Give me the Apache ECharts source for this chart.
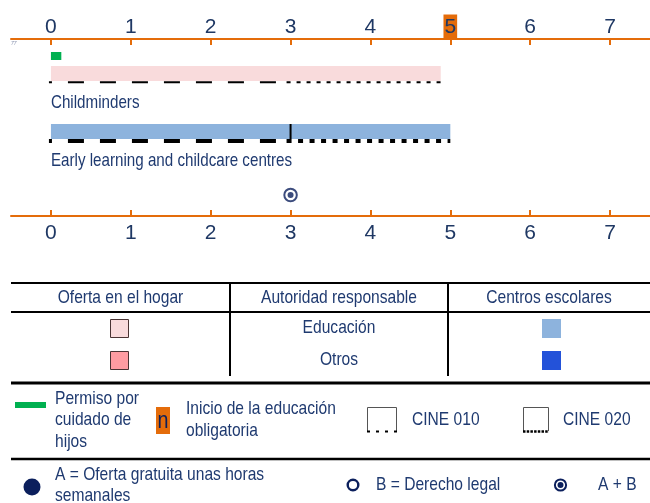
<!DOCTYPE html>
<html>
<head>
<meta charset="utf-8">
<script src="https://cdn.jsdelivr.net/npm/echarts@6/dist/echarts.min.js"></script>
<style>
html, body { margin: 0; padding: 0; background: #fff; }
#chart { width: 650px; height: 503px; }
</style>
</head>
<body>
<div id="chart"></div>
<script>
// datos del gráfico
const years = [0, 1, 2, 3, 4, 5, 6, 7];
const compulsoryAge = 5;
const leaveEnd = 0.13;
const settings = ['Childminders', 'Early learning and childcare centres'];
const settingStart = [0, 0];
const settingEnd = [4.88, 5];
const cine010End = [3, 3];
const settingColors = ['#f9dbdc', '#8db3dd'];
const authorityBreak = [null, 3];
const entitlementAge = 3; // A + B

const tableHeaders = ['Oferta en el hogar', 'Autoridad responsable', 'Centros escolares'];
const authorities = ['Educación', 'Otros'];
const homeColors = ['#f9dbdc', '#ff9ca2'];
const centreColors = ['#8db3dd', '#2352d9'];

const orange = '#e46c0a';
const navy = '#1f3a70';
const markNavy = '#0b1f5c';
const font = '"Liberation Sans", Arial, sans-serif';
const narrow = 0.82; // Arial Narrow ~ Arial al 82 %

// posiciones verticales de las filas (px desde el eje superior)
const rows = [
    { top: 27, bottom: 42, line: 43.2, w: 2, dot: [4, 6], label: 64 },
    { top: 85, bottom: 100, line: 102, w: 4, dot: [5, 6.5], label: 122 }
];

const chart = echarts.init(document.getElementById('chart'));

function txt(text, x, y, opt) {
    return {
        type: 'text', x: x, y: y, scaleX: narrow,
        style: Object.assign({
            text: text, x: 0, y: 0, fill: navy, fontSize: 19, fontFamily: font,
            align: 'left', verticalAlign: 'middle', lineHeight: 21.5
        }, opt || {})
    };
}
function hline(x1, x2, y, w) {
    return { type: 'line', shape: { x1: x1, y1: y, x2: x2, y2: y }, style: { stroke: '#000', lineWidth: w } };
}
function vline(x, y1, y2, w) {
    return { type: 'line', shape: { x1: x, y1: y1, x2: x, y2: y2 }, style: { stroke: '#000', lineWidth: w } };
}

const graphic = [
    txt('77', 11, 43, { fontSize: 6, fill: '#8a94b0', fontStyle: 'italic' }),
    // tabla de autoridades
    hline(11, 650, 283, 2),
    hline(11, 650, 312, 2),
    hline(11, 650, 383, 3),
    vline(230, 283, 376, 2),
    vline(448, 283, 376, 2),
    txt(tableHeaders[0], 120.5, 298, { align: 'center' }),
    txt(tableHeaders[1], 339, 298, { align: 'center' }),
    txt(tableHeaders[2], 549, 298, { align: 'center' })
];
authorities.forEach(function (a, i) {
    const y = 328 + i * 32;
    graphic.push(txt(a, 339, y, { align: 'center' }));
    graphic.push({ type: 'rect', shape: { x: 110.5, y: y - 8.5, width: 18, height: 18 },
        style: { fill: homeColors[i], stroke: '#4a3434', lineWidth: 1 } });
    graphic.push({ type: 'rect', shape: { x: 542, y: y - 9, width: 19, height: 19 },
        style: { fill: centreColors[i] } });
});
// leyenda
graphic.push(
    { type: 'rect', shape: { x: 15, y: 402, width: 31, height: 6 }, style: { fill: '#00b050' } },
    txt('Permiso por\ncuidado de\nhijos', 55, 420),
    { type: 'rect', shape: { x: 156, y: 407, width: 14, height: 27 }, style: { fill: orange } },
    txt('n', 163, 421, { align: 'center', fontSize: 24, fill: markNavy }),
    txt('Inicio de la educación\nobligatoria', 186, 420),
    { type: 'polyline', shape: { points: [[367.5, 431], [367.5, 407.5], [396.5, 407.5], [396.5, 431]] },
        style: { stroke: '#555', lineWidth: 1, fill: null } },
    { type: 'line', shape: { x1: 367, y1: 431.5, x2: 397, y2: 431.5 },
        style: { stroke: '#000', lineWidth: 2, lineDash: [3, 6] } },
    txt('CINE 010', 412, 420),
    { type: 'polyline', shape: { points: [[523.5, 431], [523.5, 407.5], [548.5, 407.5], [548.5, 431]] },
        style: { stroke: '#555', lineWidth: 1, fill: null } },
    { type: 'line', shape: { x1: 523, y1: 431.5, x2: 549, y2: 431.5 },
        style: { stroke: '#000', lineWidth: 2.5, lineDash: [2.5, 1.2] } },
    txt('CINE 020', 563, 420),
    hline(11, 650, 459, 2.5),
    { type: 'circle', shape: { cx: 32, cy: 487, r: 8.5 }, style: { fill: markNavy } },
    txt('A = Oferta gratuita unas horas\nsemanales', 55, 485.5, { lineHeight: 21 }),
    { type: 'circle', shape: { cx: 353, cy: 485, r: 5.3 }, style: { fill: '#fff', stroke: markNavy, lineWidth: 2.4 } },
    txt('B = Derecho legal', 376, 485),
    { type: 'circle', shape: { cx: 560.5, cy: 485, r: 5.6 }, style: { fill: '#fff', stroke: markNavy, lineWidth: 2 } },
    { type: 'circle', shape: { cx: 560.5, cy: 485, r: 3 }, style: { fill: markNavy } },
    txt('A + B', 598, 485)
);

function renderSetting(params, api) {
    const i = params.dataIndex;
    const r = rows[i];
    const s = api.value(0), e = api.value(1), m = api.value(2);
    const p0 = api.coord([s, r.top]);
    const p1 = api.coord([e, r.bottom]);
    const ls = api.coord([s, r.line]);
    const lm = api.coord([m, r.line]);
    const le = api.coord([e, r.line]);
    const children = [
        { type: 'rect', shape: { x: p0[0], y: p0[1], width: p1[0] - p0[0], height: p1[1] - p0[1] },
            style: { fill: settingColors[i] } },
        { type: 'line', shape: { x1: ls[0] - 2, y1: ls[1], x2: lm[0] - 4, y2: lm[1] },
            style: { stroke: '#000', lineWidth: r.w, lineDash: [16, 16], lineDashOffset: 13 } },
        { type: 'line', shape: { x1: lm[0] - 4, y1: lm[1], x2: le[0], y2: le[1] },
            style: { stroke: '#000', lineWidth: r.w, lineDash: r.dot } },
        { type: 'text', x: p0[0], y: api.coord([s, r.label])[1], scaleX: narrow,
            style: { text: settings[i], x: 0, y: 0, fill: navy, fontSize: 18.5, fontFamily: font,
                verticalAlign: 'middle' } }
    ];
    if (authorityBreak[i] != null) {
        const b = api.coord([authorityBreak[i], r.top]);
        children.push({ type: 'line', shape: { x1: b[0], y1: b[1], x2: b[0], y2: p1[1] },
            style: { stroke: '#000', lineWidth: 2 } });
    }
    return { type: 'group', children: children };
}

function renderLeave(params, api) {
    const p0 = api.coord([api.value(0), 13]);
    const p1 = api.coord([api.value(1), 21]);
    return { type: 'rect', shape: { x: p0[0], y: p0[1], width: p1[0] - p0[0], height: p1[1] - p0[1] },
        style: { fill: '#00b050' } };
}

const labelRich = {
    n: { fontSize: 21, fontFamily: font, color: '#1f3864', lineHeight: 22, padding: [2, 1, 2, 1] },
    hl: { fontSize: 21, fontFamily: font, color: '#1f3864', lineHeight: 22, padding: [2, 1, 2, 1],
        backgroundColor: orange }
};

const axisBase = {
    type: 'value', min: -0.5, max: 7.5,
    axisLine: { show: true, onZero: false, lineStyle: { color: orange, width: 2 } },
    axisTick: { show: true, inside: true, length: 6, customValues: years, lineStyle: { color: orange, width: 2 } },
    splitLine: { show: false }
};

const option = {
    animation: false,
    grid: { left: 11, top: 39, width: 642, height: 177, containLabel: false },
    xAxis: [
        Object.assign({}, axisBase, {
            position: 'top',
            axisLabel: { customValues: years, margin: 1,
                formatter: function (v) { return v === compulsoryAge ? '{hl|' + v + '}' : '{n|' + v + '}'; },
                rich: labelRich }
        }),
        Object.assign({}, axisBase, {
            position: 'bottom',
            axisLabel: { customValues: years, margin: 6, fontSize: 21, fontFamily: font, color: '#1f3864', lineHeight: 22 }
        })
    ],
    yAxis: { type: 'value', inverse: true, min: 0, max: 177, show: false },
    series: [
        { type: 'custom', renderItem: renderLeave, data: [[0, leaveEnd]], clip: false },
        { type: 'custom', renderItem: renderSetting, clip: false,
            data: settings.map(function (s, i) { return [settingStart[i], settingEnd[i], cine010End[i]]; }) },
        { type: 'scatter', data: [[entitlementAge, 156]], symbolSize: 12.5,
            itemStyle: { color: '#fff', borderColor: markNavy, borderWidth: 2 } },
        { type: 'scatter', data: [[entitlementAge, 156]], symbolSize: 6, itemStyle: { color: markNavy } }
    ],
    graphic: graphic
};
chart.setOption(option);
</script>
</body>
</html>
